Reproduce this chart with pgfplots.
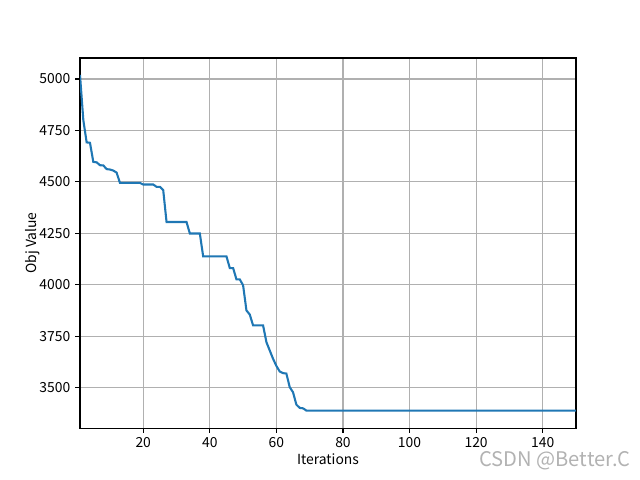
\documentclass[border=0pt]{standalone}
\usepackage{fontspec}
\setmainfont{Noto Sans CJK SC}
\usepackage{pgfplots}
\pgfplotsset{compat=1.18}
\definecolor{mplblue}{HTML}{1F77B4}
\definecolor{gridc}{HTML}{B0B0B0}
\begin{document}
\begin{tikzpicture}
\begin{axis}[
  scale only axis,
  width=357.1pt, height=266.4pt,
  xmin=1, xmax=150, ymin=3303, ymax=5102,
  xtick={20,40,...,140},
  ytick={3500,3750,...,5000},
  grid=major, grid style={gridc, line width=0.8pt},
  axis line style={line width=0.8pt},
  tick align=outside, tick pos=left,
  major tick length=3.5pt,
  tick style={black, line width=0.8pt},
  /pgf/number format/1000 sep={},
  /pgf/number format/assume math mode=true,
  tick label style={font=\fontsize{10}{12}\selectfont},
  label style={font=\fontsize{10}{12}\selectfont},
  xlabel={Iterations}, ylabel={Obj Value},
  xlabel shift=-3pt, ylabel shift=-7pt,
]
\addplot[mplblue, line width=1.5pt] coordinates {
  (1,5020) (2,4800) (3,4692) (4,4690) (5,4597) (6,4595) (7,4581) (8,4580)
  (9,4562) (10,4560) (11,4555) (12,4545) (13,4495) (19,4495) (20,4487)
  (23,4487) (24,4476) (25,4476) (26,4460) (27,4305) (33,4305) (34,4249)
  (37,4249) (38,4138) (45,4138) (46,4081) (47,4081) (48,4026) (49,4026)
  (50,3997) (51,3875) (52,3855) (53,3802) (56,3802) (57,3721) (58,3680)
  (59,3640) (60,3605) (61,3578) (62,3570) (63,3568) (64,3502) (65,3477)
  (66,3417) (67,3401) (68,3399) (69,3388) (150,3388)
};
\end{axis}
\path (current axis.south west) ++(-57.6pt,-37.4pt) coordinate (bl);
\path (current axis.north east) ++(46.1pt,41.8pt) coordinate (tr);
\useasboundingbox (bl) rectangle (tr);
\node[gray!60, font=\fontsize{14.5}{16}\selectfont, anchor=west] at ([xshift=-73pt,yshift=-23.8pt]current axis.south east) {CSDN @Better.C};
\end{tikzpicture}
\end{document}
